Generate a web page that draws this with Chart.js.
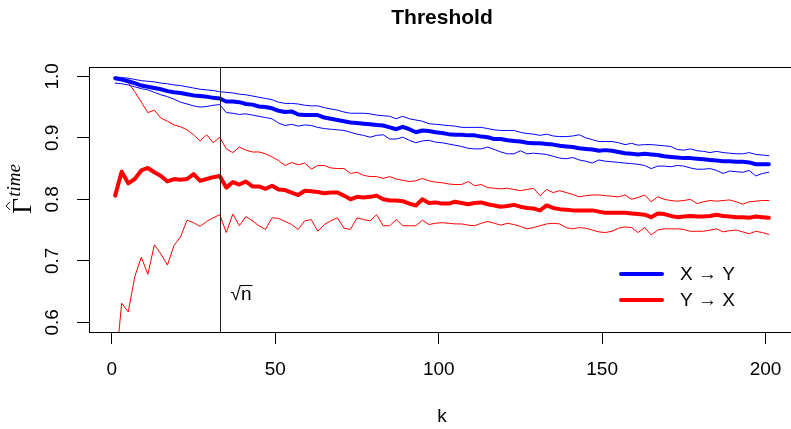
<!DOCTYPE html>
<html>
<head>
<meta charset="utf-8">
<script src="https://cdn.jsdelivr.net/npm/chart.js@4/dist/chart.umd.min.js"></script>
<style>
  html, body { margin: 0; padding: 0; background: #fff; overflow: hidden; }
  #wrap { width: 800px; height: 429px; }
</style>
</head>
<body>
<div id="wrap"><canvas id="chart" width="800" height="429"></canvas></div>
<script>
// k values (x axis)
const kValues = [1, 3, 5, 7, 9, 11, 13, 15, 17, 19, 21, 23, 25, 27, 29, 31, 33, 35, 37, 39, 41, 43, 45, 47, 49,
  51, 53, 55, 57, 59, 61, 63, 65, 67, 69, 71, 73, 75, 77, 79, 81, 83, 85, 87, 89, 91, 93, 95, 97, 99,
  101, 103, 105, 107, 109, 111, 113, 115, 117, 119, 121, 123, 125, 127, 129, 131, 133, 135, 137, 139, 141, 143, 145, 147, 149,
  151, 153, 155, 157, 159, 161, 163, 165, 167, 169, 171, 173, 175, 177, 179, 181, 183, 185, 187, 189, 191, 193, 195, 197, 199, 201];

// X -> Y (blue)
const xyMean = [0.997, 0.995, 0.992, 0.989, 0.985, 0.983, 0.981, 0.979, 0.976, 0.974, 0.973, 0.971, 0.969, 0.968, 0.967, 0.965, 0.964, 0.959, 0.959, 0.958, 0.955, 0.954, 0.951, 0.950, 0.948,
  0.944, 0.942, 0.943, 0.938, 0.937, 0.937, 0.937, 0.933, 0.931, 0.929, 0.927, 0.925, 0.924, 0.923, 0.922, 0.921, 0.920, 0.917, 0.914, 0.918, 0.914, 0.909, 0.912, 0.911, 0.909,
  0.908, 0.906, 0.905, 0.905, 0.904, 0.904, 0.902, 0.901, 0.898, 0.898, 0.896, 0.895, 0.894, 0.892, 0.891, 0.891, 0.890, 0.889, 0.887, 0.886, 0.885, 0.883, 0.882, 0.881, 0.879,
  0.880, 0.879, 0.877, 0.875, 0.874, 0.873, 0.874, 0.873, 0.872, 0.870, 0.869, 0.868, 0.867, 0.867, 0.866, 0.865, 0.864, 0.863, 0.862, 0.862, 0.861, 0.861, 0.860, 0.857, 0.857, 0.857];
const xyUpper = [0.999, 0.998, 0.997, 0.995, 0.993, 0.992, 0.991, 0.989, 0.988, 0.986, 0.985, 0.983, 0.981, 0.979, 0.978, 0.977, 0.975, 0.974, 0.973, 0.971, 0.970, 0.968, 0.966, 0.964, 0.962,
  0.958, 0.956, 0.956, 0.955, 0.953, 0.952, 0.952, 0.949, 0.947, 0.945, 0.942, 0.940, 0.940, 0.940, 0.939, 0.937, 0.936, 0.935, 0.931, 0.935, 0.931, 0.929, 0.927, 0.923, 0.922,
  0.921, 0.920, 0.919, 0.917, 0.917, 0.917, 0.917, 0.915, 0.913, 0.912, 0.912, 0.912, 0.909, 0.907, 0.906, 0.904, 0.906, 0.903, 0.902, 0.902, 0.903, 0.905, 0.900, 0.897, 0.894,
  0.894, 0.894, 0.892, 0.889, 0.891, 0.888, 0.889, 0.889, 0.888, 0.887, 0.886, 0.881, 0.880, 0.882, 0.879, 0.878, 0.876, 0.878, 0.876, 0.875, 0.874, 0.874, 0.876, 0.873, 0.872, 0.871];
const xyLower = [0.989, 0.988, 0.986, 0.983, 0.980, 0.978, 0.974, 0.970, 0.967, 0.963, 0.958, 0.955, 0.952, 0.950, 0.951, 0.953, 0.954, 0.941, 0.940, 0.938, 0.939, 0.937, 0.935, 0.933, 0.931,
  0.924, 0.920, 0.922, 0.919, 0.921, 0.920, 0.917, 0.915, 0.914, 0.913, 0.912, 0.909, 0.906, 0.904, 0.901, 0.904, 0.905, 0.898, 0.898, 0.901, 0.896, 0.892, 0.895, 0.896, 0.893,
  0.892, 0.890, 0.888, 0.886, 0.883, 0.882, 0.882, 0.885, 0.881, 0.877, 0.874, 0.874, 0.879, 0.874, 0.875, 0.874, 0.873, 0.870, 0.867, 0.866, 0.868, 0.864, 0.862, 0.859, 0.864,
  0.862, 0.861, 0.860, 0.859, 0.858, 0.857, 0.855, 0.850, 0.854, 0.854, 0.853, 0.855, 0.854, 0.851, 0.849, 0.849, 0.850, 0.847, 0.842, 0.846, 0.845, 0.844, 0.847, 0.838, 0.842, 0.844];

// Y -> X (red)
const yxMean = [0.806, 0.845, 0.826, 0.833, 0.847, 0.851, 0.844, 0.838, 0.829, 0.833, 0.832, 0.833, 0.841, 0.830, 0.833, 0.836, 0.838, 0.819, 0.828, 0.824, 0.829, 0.821, 0.821, 0.817, 0.822,
  0.816, 0.815, 0.811, 0.807, 0.814, 0.813, 0.812, 0.810, 0.811, 0.811, 0.806, 0.800, 0.804, 0.803, 0.804, 0.806, 0.800, 0.798, 0.798, 0.797, 0.793, 0.790, 0.800, 0.794, 0.795,
  0.793, 0.793, 0.796, 0.794, 0.792, 0.794, 0.795, 0.792, 0.790, 0.788, 0.789, 0.791, 0.788, 0.786, 0.785, 0.782, 0.790, 0.786, 0.784, 0.783, 0.782, 0.782, 0.782, 0.782, 0.780,
  0.778, 0.778, 0.778, 0.778, 0.777, 0.776, 0.775, 0.771, 0.777, 0.776, 0.773, 0.771, 0.772, 0.773, 0.772, 0.772, 0.773, 0.775, 0.773, 0.772, 0.771, 0.771, 0.770, 0.772, 0.771, 0.770];
const yxUpper = [0.997, 0.996, 0.990, 0.975, 0.958, 0.941, 0.945, 0.932, 0.927, 0.921, 0.918, 0.913, 0.905, 0.895, 0.905, 0.892, 0.901, 0.882, 0.876, 0.885, 0.880, 0.877, 0.877, 0.874, 0.869,
  0.863, 0.855, 0.860, 0.856, 0.859, 0.849, 0.855, 0.855, 0.851, 0.850, 0.850, 0.842, 0.844, 0.839, 0.837, 0.837, 0.834, 0.837, 0.833, 0.831, 0.829, 0.830, 0.834, 0.830, 0.828,
  0.827, 0.825, 0.824, 0.824, 0.829, 0.822, 0.824, 0.819, 0.818, 0.817, 0.818, 0.816, 0.814, 0.816, 0.818, 0.806, 0.816, 0.811, 0.814, 0.811, 0.808, 0.804, 0.806, 0.807, 0.807,
  0.806, 0.805, 0.804, 0.807, 0.800, 0.803, 0.807, 0.796, 0.804, 0.800, 0.798, 0.797, 0.798, 0.800, 0.793, 0.796, 0.798, 0.797, 0.798, 0.799, 0.796, 0.792, 0.796, 0.797, 0.798, 0.798];
const yxLower = [0.520, 0.631, 0.617, 0.674, 0.706, 0.678, 0.726, 0.711, 0.693, 0.725, 0.739, 0.766, 0.762, 0.756, 0.764, 0.770, 0.775, 0.746, 0.776, 0.757, 0.772, 0.765, 0.757, 0.751, 0.770,
  0.769, 0.764, 0.759, 0.751, 0.765, 0.767, 0.748, 0.759, 0.765, 0.770, 0.753, 0.751, 0.770, 0.767, 0.765, 0.775, 0.757, 0.757, 0.767, 0.757, 0.757, 0.757, 0.766, 0.759, 0.761,
  0.762, 0.761, 0.760, 0.760, 0.758, 0.757, 0.761, 0.764, 0.761, 0.758, 0.761, 0.759, 0.756, 0.752, 0.754, 0.757, 0.760, 0.761, 0.760, 0.754, 0.752, 0.754, 0.753, 0.750, 0.747,
  0.746, 0.748, 0.753, 0.755, 0.754, 0.746, 0.754, 0.742, 0.750, 0.752, 0.752, 0.752, 0.751, 0.748, 0.748, 0.748, 0.750, 0.752, 0.747, 0.749, 0.750, 0.747, 0.744, 0.748, 0.746, 0.743];

const xTicks = [0, 50, 100, 150, 200];
const yTicks = [0.6, 0.7, 0.8, 0.9, 1.0];
const sqrtN = 33;
const legendLabels = ['X \u2192 Y', 'Y \u2192 X'];

const BLUE = '#0000ff';
const RED = '#ff0000';
const SANS = '"Liberation Sans", Arial, sans-serif';
const SERIF = '"Liberation Serif", "DejaVu Serif", serif';

const toPoints = vals => vals.map((v, i) => ({ x: kValues[i], y: v }));

function line(vals, color, width) {
  return {
    data: toPoints(vals),
    borderColor: color,
    borderWidth: width,
    pointRadius: 0,
    tension: 0,
    fill: false,
    clip: 0,
    borderCapStyle: 'round',
    borderJoinStyle: 'round'
  };
}

// box, sqrt(n) marker, legend, title and axis titles drawn R style
const rDecor = {
  id: 'rDecor',
  afterDatasetsDraw(chart) {
    const { ctx, chartArea: a, scales } = chart;
    ctx.save();
    ctx.strokeStyle = '#000';
    ctx.lineWidth = 1;
    ctx.strokeRect(Math.round(a.left) + 0.5, Math.round(a.top) + 0.5,
      Math.round(a.right - a.left), Math.round(a.bottom - a.top));

    // vertical line at sqrt(n)
    const vx = Math.round(scales.x.getPixelForValue(sqrtN)) + 0.5;
    ctx.strokeStyle = '#222';
    ctx.beginPath();
    ctx.moveTo(vx, a.top);
    ctx.lineTo(vx, a.bottom);
    ctx.stroke();

    // sqrt(n) label
    ctx.fillStyle = '#000';
    ctx.font = '19px ' + SANS;
    ctx.textBaseline = 'alphabetic';
    ctx.textAlign = 'left';
    const lx = vx + 10;
    const ly = 300;
    ctx.fillText('\u221A', lx, ly);
    const rw = ctx.measureText('\u221A').width;
    ctx.fillText('n', lx + rw, ly);
    const nw = ctx.measureText('n').width;
    ctx.lineWidth = 1;
    ctx.strokeStyle = '#000';
    ctx.beginPath();
    ctx.moveTo(lx + rw - 1, 285.5);
    ctx.lineTo(lx + rw + nw + 1, 285.5);
    ctx.stroke();

    // legend
    const legColors = [BLUE, RED];
    const legY = [274, 300];
    legendLabels.forEach((txt, i) => {
      ctx.strokeStyle = legColors[i];
      ctx.lineWidth = 4;
      ctx.lineCap = 'round';
      ctx.beginPath();
      ctx.moveTo(621, legY[i]);
      ctx.lineTo(662, legY[i]);
      ctx.stroke();
      ctx.fillStyle = '#000';
      ctx.font = '19px ' + SANS;
      ctx.textBaseline = 'middle';
      ctx.fillText(txt, 680, legY[i] + 1);
    });
    ctx.restore();
  },
  afterDraw(chart) {
    const { ctx, chartArea: a } = chart;
    ctx.save();
    ctx.fillStyle = '#000';
    // title
    ctx.font = 'bold 21px ' + SANS;
    ctx.textAlign = 'center';
    ctx.textBaseline = 'middle';
    ctx.fillText('Threshold', (a.left + a.right) / 2, 18);
    // x title
    ctx.font = '19px ' + SANS;
    ctx.fillText('k', (a.left + a.right) / 2, 417);
    // y title: hat Gamma ^ time
    ctx.translate(31, 189);
    ctx.rotate(-Math.PI / 2);
    ctx.textAlign = 'left';
    ctx.textBaseline = 'alphabetic';
    ctx.font = '28px ' + SERIF;
    const gw = ctx.measureText('\u0393').width;
    ctx.font = 'italic 19px ' + SERIF;
    const tw = ctx.measureText('time').width;
    const x0 = -(gw + tw + 1) / 2;
    ctx.font = '28px ' + SERIF;
    ctx.fillText('\u0393', x0, 0);
    // hat
    ctx.lineWidth = 1;
    ctx.strokeStyle = '#000';
    ctx.beginPath();
    ctx.moveTo(x0 + gw * 0.25, -21);
    ctx.lineTo(x0 + gw * 0.5, -25);
    ctx.lineTo(x0 + gw * 0.75, -21);
    ctx.stroke();
    ctx.font = 'italic 19px ' + SERIF;
    ctx.fillText('time', x0 + gw + 1, -11);
    ctx.restore();
  }
};

new Chart(document.getElementById('chart'), {
  type: 'line',
  data: {
    datasets: [
      line(xyMean, BLUE, 4),
      line(yxMean, RED, 4),
      line(xyUpper, BLUE, 1),
      line(xyLower, BLUE, 1),
      line(yxUpper, RED, 1),
      line(yxLower, RED, 1)
    ]
  },
  options: {
    responsive: false,
    animation: false,
    devicePixelRatio: 1,
    layout: { padding: { left: 0, top: 67, right: 5, bottom: 0 } },
    plugins: { legend: { display: false }, title: { display: false }, tooltip: { enabled: false } },
    scales: {
      x: {
        type: 'linear',
        min: -7,
        max: 209,
        afterFit: s => { s.height = 97; },
        afterBuildTicks: s => { s.ticks = xTicks.map(v => ({ value: v })); },
        border: { display: false },
        grid: { drawOnChartArea: false, tickLength: 12, color: '#000', tickColor: '#000', lineWidth: 1 },
        ticks: {
          includeBounds: false,
          padding: 14,
          color: '#000',
          font: { family: SANS, size: 19 },
          maxRotation: 0,
          callback: v => String(v)
        }
      },
      y: {
        min: 0.5842,
        max: 1.0152,
        afterFit: s => { s.width = 89; },
        afterBuildTicks: s => { s.ticks = yTicks.map(v => ({ value: v })); },
        border: { display: false },
        grid: { drawOnChartArea: false, tickLength: 12, color: '#000', tickColor: '#000', lineWidth: 1 },
        ticks: {
          includeBounds: false,
          padding: 11,
          crossAlign: 'center',
          minRotation: 90,
          maxRotation: 90,
          color: '#000',
          font: { family: SANS, size: 19 },
          callback: v => Number(v).toFixed(1)
        }
      }
    }
  },
  plugins: [rDecor]
});
</script>
</body>
</html>
